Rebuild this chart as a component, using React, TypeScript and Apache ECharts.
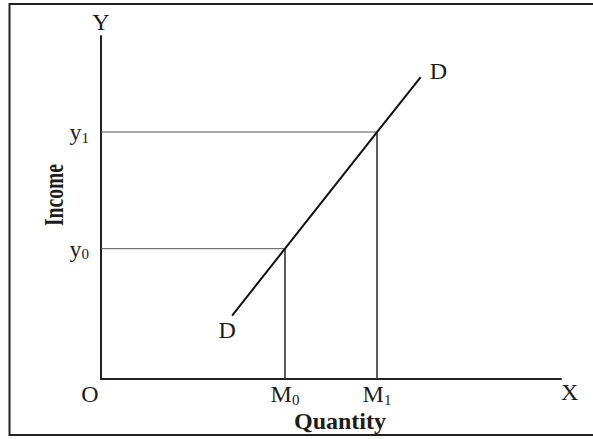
import React, { useEffect, useRef } from 'react';
import * as echarts from 'echarts';

// Quantity levels (x) and income levels (y) marked on the axes
const quantityLevels = [40, 60]; // M0, M1
const incomeLevels = [38, 72]; // y0, y1
const xTickValues = [0, 40, 60];
const xTickLabels = ['O', 'M0', 'M1'];
const yTickValues = [38, 72];
const yTickLabels = ['y0', 'y1'];
// Income-demand line D-D
const demandX = [28.5, 40, 60, 69.5];
const demandY = [18.5, 38, 72, 88];

const FONT = "'Liberation Serif', 'Times New Roman', serif";
const INK = '#1c1c1c';

function subLabel(s: string) {
  if (s.length === 1) return '{o|' + s + '}';
  return '{m|' + s[0] + '}{s|' + s.slice(1) + '}';
}

export default function App() {
  const ref = useRef<HTMLDivElement>(null);
  useEffect(() => {
    if (!ref.current) return;
    const chart = echarts.init(ref.current, undefined, { renderer: 'svg' });
    const rich = {
      m: { fontSize: 24, fontFamily: FONT, color: INK, lineHeight: 26 },
      s: { fontSize: 15, fontFamily: FONT, color: INK, lineHeight: 13, verticalAlign: 'bottom' },
      o: { fontSize: 24, fontFamily: FONT, color: INK, lineHeight: 26, padding: [0, 22, 0, 0] },
    };
    const guideH = incomeLevels.map((yv, i) => ({
      type: 'line',
      data: [[0, yv], [quantityLevels[i], yv]],
      symbol: 'none',
      lineStyle: { color: '#555', width: 1 },
      z: 2,
    }));
    const guideV = quantityLevels.map((xv, i) => ({
      type: 'line',
      data: [[xv, 0], [xv, incomeLevels[i]]],
      symbol: 'none',
      lineStyle: { color: '#333', width: 1.6 },
      z: 2,
    }));
    const demandData = demandX.map((x, i) => {
      const item: any = { value: [x, demandY[i]] };
      if (i === 0) {
        item.label = { show: true, formatter: 'D', position: 'bottom', distance: 2, offset: [-5, 0] };
      } else if (i === demandX.length - 1) {
        item.label = { show: true, formatter: 'D', position: 'right', distance: 9, offset: [0, -6] };
      }
      return item;
    });
    chart.setOption({
      animation: false,
      backgroundColor: '#fff',
      grid: { left: 101, right: 32, top: 36, bottom: 60, containLabel: false },
      xAxis: {
        type: 'value',
        min: 0,
        max: 100,
        interval: 20,
        name: 'X',
        nameLocation: 'end',
        nameGap: 0,
        nameTextStyle: {
          fontSize: 24,
          fontFamily: FONT,
          color: INK,
          verticalAlign: 'top',
          lineHeight: 26,
          padding: [0, 0, 0, 0],
        },
        axisLine: { show: true, lineStyle: { color: '#222', width: 2 } },
        axisTick: { show: false },
        splitLine: { show: false },
        axisLabel: {
          margin: 2,
          formatter: (v: number) => {
            const k = xTickValues.indexOf(v);
            return k >= 0 ? subLabel(xTickLabels[k]) : '';
          },
          rich,
        },
      },
      yAxis: {
        type: 'value',
        min: 0,
        max: 100,
        interval: 2,
        name: 'Y',
        nameLocation: 'end',
        nameGap: 2,
        nameTextStyle: { fontSize: 24, fontFamily: FONT, color: INK },
        axisLine: { show: true, lineStyle: { color: '#222', width: 2 } },
        axisTick: { show: false },
        splitLine: { show: false },
        axisLabel: {
          margin: 12,
          formatter: (v: number) => {
            const k = yTickValues.indexOf(v);
            return k >= 0 ? subLabel(yTickLabels[k]) : '';
          },
          rich,
        },
      },
      series: [
        ...guideH,
        ...guideV,
        {
          type: 'line',
          data: demandData,
          symbol: 'circle',
          symbolSize: 0,
          showSymbol: true,
          lineStyle: { color: '#111', width: 2 },
          itemStyle: { color: '#111' },
          label: { fontSize: 24, fontFamily: FONT, color: INK },
          z: 3,
        },
      ],
      graphic: [
        {
          type: 'rect',
          shape: { x: 9.5, y: 4, width: 620, height: 431 },
          style: { fill: 'none', stroke: '#222', lineWidth: 2 },
          silent: true,
        },
        {
          type: 'text',
          x: 53,
          y: 195,
          rotation: Math.PI / 2,
          scaleX: 0.7,
          style: {
            text: 'Income',
            fontSize: 28,
            fontWeight: 'bold',
            fontFamily: FONT,
            fill: INK,
            align: 'center',
            verticalAlign: 'middle',
          },
        },
        {
          type: 'text',
          x: 340,
          y: 421,
          style: {
            text: 'Quantity',
            fontSize: 24,
            fontWeight: 'bold',
            fontFamily: FONT,
            fill: INK,
            align: 'center',
            verticalAlign: 'middle',
          },
        },
      ],
    });
    return () => chart.dispose();
  }, []);
  return (
    <div
      ref={ref}
      style={{ position: 'absolute', left: 0, top: 0, width: 593, height: 439, background: '#fff' }}
    />
  );
}
